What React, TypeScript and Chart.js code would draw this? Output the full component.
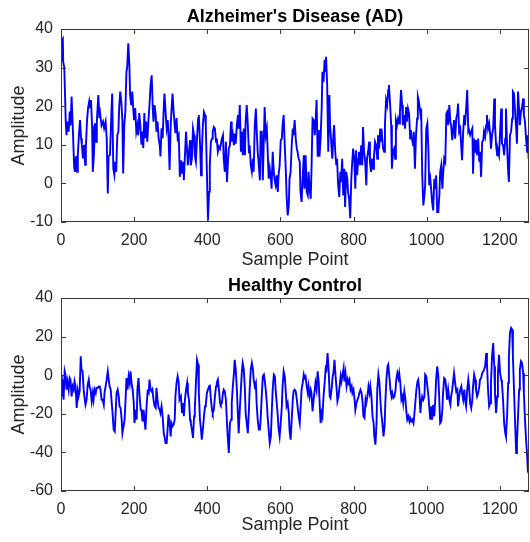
import React, { useEffect, useRef } from 'react';
import { Chart, registerables } from 'chart.js';

Chart.register(...registerables);

const FONT = '"Liberation Sans", Arial, Helvetica, sans-serif';

const adTitle = "Alzheimer's Disease (AD)";
const hcTitle = 'Healthy Control';
const xLabel = 'Sample Point';
const yLabel = 'Amplitude';

// ---- Alzheimer's Disease trace ----
const adSamplesA = [
  0, 2, 5, 6, 9, 13, 15, 18, 21, 24, 26, 29, 32, 36, 38, 41, 44, 46, 49, 52,
  55, 57, 60, 63, 66, 68, 71, 74, 77, 79, 82, 85, 87, 90, 93, 96, 98, 102, 105, 107,
  111, 115, 118, 122, 125, 128, 130, 134, 138, 140, 143, 146, 148, 151, 154, 157, 159, 162, 165, 168,
  170, 173, 176, 179, 181, 184, 187, 189, 192, 195, 198, 200, 203, 206, 209, 211, 214, 217, 220, 222,
  225, 228, 230, 233, 236, 239, 242, 245, 248, 251, 253, 256, 259, 261, 264, 267, 270, 272, 275, 278,
  281, 283, 286, 289, 292, 294, 297, 300, 302, 305, 308, 311, 313, 316, 319, 322, 324,
];
const adValuesA = [
  32, 37, 37.5, 31.5, 30, 16, 12.5, 16, 13.4, 18.6, 15, 22.5, 15, 4.3, 3, 7, 3, 7.4, 12.5, 16.4,
  11.7, 10, 6.5, 10, 4.8, 9.2, 16, 19.5, 21.2, 19.5, 21.6, 15, 3, 7.4, 15.6, 10.8, 16, 22.9, 16.9, 18.2,
  15, 16, 14.3, 16, 11.7, -2.6, 7, 7.4, 18.6, 23.3, 3.9, 2.2, 5.6, 3, 12.5, 13.4, 19.5, 23.8, 21.2, 16,
  2.6, 15, 18.6, 29, 30, 36.3, 30.7, 22.9, 20.3, 23.8, 18.6, 16.4, 19.5, 13.4, 15, 12.5, 18.2, 15, 10, 13.4,
  9.2, 18.2, 11.7, 16, 10.8, 16, 20.3, 25.5, 28, 19.5, 16, 20.3, 17.7, 13.4, 16, 11.7, 10, 7, 14.3, 11.7,
  19.5, 23.3, 18.6, 14.3, 16.4, 12.5, 3.5, 15, 18.6, 23.3, 18.6, 15, 13, 16.9, 11.7, 12.5, 5.6,
];

const samplesB = [
  325, 328, 331, 334, 336, 339, 342, 345, 347, 350, 353, 355, 358, 361, 364, 366, 369, 372, 375, 377,
  380, 383, 385, 388, 391, 394, 396, 399, 402, 405, 407, 410, 413, 415, 418, 421, 424, 426, 429, 432,
  435, 437, 440, 443, 445, 448, 451, 454, 456, 459, 462, 465, 467, 470, 473, 475, 478, 481, 484, 486,
  489, 492, 495, 497, 500, 503, 505, 508, 511, 514, 516, 519, 522, 525, 527, 530, 533, 535, 538, 541,
  544, 546, 549, 552, 555, 557, 560, 563, 565, 568, 571, 574, 576, 579, 582, 585, 587, 590, 593, 595,
  598, 601, 604, 606, 609, 612, 615, 617, 620, 623, 625, 628, 631, 634, 636, 639, 642, 645, 647, 650,
  653,
];
const adValuesB = [
  1.7, 6, 2.5, 5.6, 0.8, 7.3, 13.4, 8.2, 4.7, 8.2, 11.2, 4.7, 6.4, 14.2, 12.5, 7.3, 5.6, 11.6, 16.8, 17.7,
  10.8, 2.1, 7.3, 15.1, 18.5, 17.7, 15.1, 3, -9.6, -2.2, 4.7, 10.8, 11.6, 13.4, 14.6, 14.2, 10.8, 11.6, 8.2, 9.5,
  9, 9, 11.6, 12.5, 6.4, 3, 10.8, 0.4, 4.7, 9, 9.9, 16, 10.8, 12.5, 9.9, 12.9, 10.3, 15.1, 17.7, 14.2,
  20.3, 8.2, 13.4, 7.3, 14.2, 7.3, 16, 20.3, 15.1, 7.8, 9.9, 4.7, 3, 6.4, 3, 15.1, 19.4, 14.2, 8.2, 4.7,
  0.8, 13.4, 13.4, 0.8, 12.5, 19.8, 12.5, 14.2, 9, 1.2, 3.8, 1.2, -1.4, 8.2, 3, 0.4, -0.5, 2.1, -2.2, 2.1,
  4.7, 11.2, 11.6, 15.1, 17.7, 9.9, 3, -3.1, -8.3, -5.7, 1.2, 3, 9.9, 14.2, 12.5, 16.4, 11.6, 9, 8.2, 6.4,
  5.6,
];

const adSamplesC = [
  655, 658, 661, 664, 666, 669, 672, 675, 677, 680, 683, 685, 688, 691, 694, 696, 699, 702, 705, 707,
  710, 713, 715, 718, 721, 724, 725, 728, 731, 734, 736, 739, 742, 745, 747, 750, 753, 755, 758, 761,
  764, 766, 769, 772, 775, 777, 780, 783, 785, 788, 791, 794, 796, 799, 802, 805, 807, 810, 813, 815,
  818, 821, 824, 826, 829, 832, 835, 837, 840, 843, 845, 848, 851, 854, 856, 859, 862, 865, 867, 870,
  873, 875, 878, 881, 884, 886, 889, 892, 895, 897, 900, 903, 905, 908, 911, 914, 916, 919, 922, 925,
  927, 930, 933, 935, 938, 941, 944, 946, 949, 952, 955, 957, 960, 963, 965, 968, 971, 974, 976, 979,
];
const adValuesC = [
  -2.2, -4.8, 1.2, 7.3, -1.4, 7.3, -2.2, -3.1, 3, -1.4, -4, 3, 16.8, 16.4, 12.5, 15.1, 21.6, 6.9, 13.8, 6.9,
  11.6, 19.4, 28.9, 26.3, 32, 28.9, 32.8, 25.5, 8.2, 22.9, 15.1, 10.8, 6.4, 12.5, 15.1, 8.2, 4.7, 6.4, -0.5, -3.5,
  3, 0.4, 6.4, -3.1, 3.8, -6.1, 3, 1.2, -2.2, -4, -9, 1.2, 4.7, 9, 6.4, -1.4, 8.6, 2.1, 6.4, 8.2,
  4.7, 9.9, 4.7, 14.6, 8.2, 5.6, -0.5, 6.4, 8.2, 10.8, 5.6, 3, 6.4, 3.8, 6.9, 10.8, 9.9, 6.4, 12.5, 9,
  14.2, 10.8, 12.5, 9, 8.2, 15.1, 21.6, 20.3, 24.2, 25.5, 20.7, 15.1, 3.8, 8.2, 9, 6.4, 16.4, 15.1, 16.8, 15.5,
  18.5, 24.2, 20.3, 15.1, 17.7, 14.2, 19.8, 16, 19.4, 18.1, 11.6, 13.8, 11.6, 9.9, 13.4, 3.8, 12.5, 16.8, 22.5, 21.2,
];

const samplesD = [
  983, 985, 988, 991, 994, 996, 999, 1002, 1005, 1007, 1010, 1013, 1015, 1018, 1021, 1024, 1026, 1029, 1032, 1035,
  1037, 1040, 1043, 1045, 1048, 1051, 1054, 1056, 1059, 1062, 1065, 1067, 1070, 1073, 1075, 1078, 1081, 1084, 1086, 1089,
  1092, 1095, 1097, 1100, 1103, 1105, 1108, 1111, 1114, 1116, 1119, 1122, 1125, 1127, 1130, 1133, 1135, 1138, 1141, 1144,
  1146, 1149, 1152, 1155, 1157, 1160, 1163, 1165, 1168, 1171, 1174, 1176, 1179, 1182, 1185, 1187, 1190, 1193, 1195, 1198,
  1201, 1204, 1206, 1209, 1212, 1215, 1217, 1220, 1223, 1225, 1228, 1231, 1234, 1236, 1239, 1242, 1245, 1247, 1250, 1253,
  1255, 1258, 1261, 1264, 1266, 1269, 1272, 1275, 1277, 1279,
];
const adValuesD = [
  18.1, 19.4, 2.1, -5.7, -3.1, -0.5, 14.2, 15.5, 8.2, -0.5, 1.2, -2.2, -4.8, -7, 1.2, -1.4, 2.1, -7.4, -7.4, -2.7,
  3, 4.7, -1.4, 2.1, 6.4, 5.6, 18.1, 18.5, 15.1, 20.3, 16, 15.1, 11.2, 14.2, 16.4, 11.6, 16.8, 18.1, 20.7, 13.4,
  14.2, 9, 6, 13.4, 17.7, 15.1, 19.4, 24.2, 13.4, 13.8, 12.5, 13.4, 14.2, 2.5, 11.6, 8.2, 11.2, 7.3, 11.6, 5.6,
  8.2, 1.7, 10.8, 11.2, 13.4, 12.1, 15.1, 17.7, 14.2, 15.5, 12.5, 9, 12.5, 14.2, 22, 15.1, 9.9, 7.3, 8.6, 7.3,
  13.4, 19.4, 10.3, 9.9, 7.3, 11.6, 19.4, 9.9, 3, 0.4, 12.5, 13.4, 16.8, 23.8, 23.3, 18.5, 14.2, 10.3, 23.8, 19,
  15.1, 18.5, 19.8, 22, 17.7, 16, 11.6, 8.2, 12.5, 6.4,
];

// ---- Healthy Control trace ----
const hcSamplesA = [
  0, 2, 5, 7, 10, 13, 15, 18, 21, 24, 26, 29, 32, 35, 37, 40, 43, 46, 48, 51,
  54, 56, 59, 62, 65, 67, 70, 73, 76, 78, 81, 84, 87, 89, 92, 95, 97, 100, 103, 106,
  108, 111, 114, 117, 119, 122, 125, 128, 130, 133, 136, 138, 141, 144, 147, 149, 152, 155, 158, 160,
  163, 166, 168, 171, 174, 177, 179, 182, 185, 188, 190, 193, 196, 199, 201, 204, 207, 209, 212, 215,
  218, 220, 223, 226, 229, 231, 234, 237, 240, 242, 245, 248, 250, 253, 256, 259, 261, 264, 267, 270,
  272, 275, 278, 281, 283, 286, 289, 292, 294, 297, 300, 302, 305, 308, 311, 313, 316, 319, 322, 324,
];
const hcValuesA = [
  0.3, -11, -2.3, -12.7, 2, -0.6, -7.5, -3.2, -7.5, -1.5, -2.3, -11, -5.8, -7.5, -3.2, -5.8, -17, -8.4, -11, -8.4,
  9.8, 2.9, 2, -7.5, -12.7, -15.3, -12.7, -4.9, -2.3, -5.8, -7.5, -13.5, -9.2, -12.7, -7.5, -9.2, -6.6, -6.6, -5.8, -5.8,
  -7.5, -12.7, -12.7, -15.3, -9.2, -5.8, -2.3, 2, -1.5, -5.8, -7.5, -12.7, -19.6, -28.2, -29.1, -21.3, -9.2, -7.5, -11, -16.1,
  -17, -23, -30, -26.5, -23, -11, -1.5, -7.5, -0.6, -4, 2, -4, -7.5, -14.4, -24.8, -17.9, -23, -7.5, -1.5, -11,
  -17.9, -17.9, -23.9, -17.9, -24.8, -28.2, -16.1, -8.4, -9.2, -2.3, -7.5, -8.4, -7.5, -12.7, -16.1, -17, -6.6, -12.7, -17, -17.9,
  -19.6, -16.1, -21.3, -30, -31.7, -35.1, -35.1, -26.5, -20.4, -24.8, -31.7, -24.8, -26.5, -25.6, -23, -11, -4, -0.6, -4, -12.7,
];

const hcValuesB = [
  -12.7, -11, -19.6, -14.4, -21.3, -12.7, -7.5, -4, -9.2, -12.7, -23, -24.8, -28.2, -32.5, -21.3, -17.9, -4, 8, 5.5, -9.2,
  -23, -28.2, -33.4, -28.2, -21.3, -16.1, -15.3, -9.2, -7.5, -5.8, -4.9, -12.7, -17.9, -19.6, -17.9, -11, -5.8, -4, -2.3, -7.5,
  -14.4, -15.3, -14.4, -9.2, -7.5, -8.4, -12.7, -24.8, -31.7, -40.3, -24.8, -23, -14.4, -5.8, 1.1, 8, 2.9, -7.5, -21.3, -30,
  -17.9, -7.5, 2.9, 6.3, 2.9, -7.5, -19.6, -24.8, -30, -17.9, -7.5, 2.9, 6.3, 2.9, -2.3, -5.8, -4, -14.4, -23, -28.2,
  -28.2, -23, -11, -0.6, 0.3, -2.3, -7.5, -14.4, -21.3, -28.2, -35.1, -31.7, -21.3, -7.5, 0.3, -0.6, -7.5, -14.4, -21.3, -27.3,
  -31.7, -24.8, -16.1, -5.8, 2, -0.6, -9.2, -16.1, -14.4, -19.6, -28.2, -33.4, -23, -12.7, -8.4, -7.5, -8.4, -12.7, -16.1, -21.3,
  -24.8,
];

const hcSamplesC = [
  655, 658, 661, 664, 666, 669, 672, 675, 677, 680, 683, 685, 688, 691, 694, 696, 699, 702, 705, 707,
  710, 713, 715, 718, 721, 724, 726, 729, 732, 735, 737, 740, 743, 745, 748, 751, 754, 756, 759, 762,
  765, 767, 770, 773, 775, 778, 781, 784, 786, 789, 792, 795, 797, 800, 803, 805, 808, 811, 814, 816,
  819, 822, 825, 827, 830, 833, 835, 838, 841, 844, 846, 849, 852, 855, 857, 860, 863, 865, 868, 871,
  874, 876, 879, 882, 885, 887, 890, 893, 895, 898, 901, 904, 906, 909, 912, 915, 917, 920, 923, 925,
  928, 931, 934, 936, 939, 942, 945, 947, 950, 953, 955, 958, 961, 964, 966, 969, 972, 975, 977, 980,
];
const hcValuesC = [
  -17.9, -7.5, -4, 0.3, -1.5, -0.6, -5.8, -9.2, -5.8, -11, -7.5, -9.2, -18.7, -12.7, -7.5, -4, -7.5, 2, -4, -12.7,
  -24.8, -19.6, -21.3, -11, -4, 3.7, 2.9, 11.5, 2.9, -11, -11.8, -7.5, -0.6, 1.1, 8, -0.6, -7.5, -13.5, -11, -5.8,
  -0.6, -3.2, 0.3, 3.7, -3.2, 1.1, -5.8, -2.3, -4, -2.3, -7.5, -5.8, -9.2, -7.5, -12.7, -17.9, -14.4, -12.7, -11, -9.2,
  -7.5, -9.2, -14.4, -21.3, -22.2, -12.7, -14.4, -11, -5.8, -9.2, -5.8, -11, -21.3, -24.8, -31.7, -36, -24.8, -7.5, 0.3, -4,
  -14.4, -19.6, -24.8, -31.7, -26.5, -14.4, -2.3, 4.6, 5.5, -0.6, -7.5, -11, -9.2, -11.8, -11, -7.5, -2.3, 1.1, -1.5, 1.1,
  -4, -12.7, -11, -14.4, -8.4, -12.7, -19.6, -23, -21.3, -23.9, -22.2, -23.9, -23, -24.8, -21.3, -14.4, -7.5, -3.2, -2.3, -7.5,
];

const hcValuesD = [
  -19.6, -14.4, -11, -12.7, -11, 0.3, -0.6, -5.8, -11, -16.1, -23, -16.1, -23, -15.3, -21.3, -11, -2.3, 4.6, -0.6, -14.4,
  -24.8, -23.9, -17.9, -9.2, -1.5, -2.3, -7.5, -12.7, -7.5, -12.7, -15.3, -11, -7.5, -2.3, 1.1, -4, -8.4, -7.5, -16.1, -11,
  -7.5, -5.8, -9.2, -12.7, -7.5, -12.7, -16.1, -7.5, -2.3, -5.8, -14.4, -17, -12.7, -5.8, 0.3, -2.3, -7.5, -11, -9.2, -5.8,
  -2.3, -1.5, 1.1, 2, 2.9, 4.6, 11.5, 6.3, -7.5, -16.1, -14.4, -4, 9.8, 16.7, 4.6, -9.2, -19.6, -11, 1.1, 10.6,
  1.1, -2.3, -4, -12.7, -24.8, -30, -31.7, -21.3, -4, 9.8, 21.9, 24.5, 23.6, 9.8, -7.5, -24.8, -40.3, -35.1, -21.3, -7.5,
  2.9, 7.2, 6.3, 1.1, -9.2, -23, -33.4, -42, -49.8, -50.7,
];

const adSamples = [...adSamplesA, ...samplesB, ...adSamplesC, ...samplesD];
const adAmplitude = [...adValuesA, ...adValuesB, ...adValuesC, ...adValuesD];
const hcSamples = [...hcSamplesA, ...samplesB, ...hcSamplesC, ...samplesD];
const hcAmplitude = [...hcValuesA, ...hcValuesB, ...hcValuesC, ...hcValuesD];

const xRange = [0, 1280];
const adYRange = [-10, 40];
const hcYRange = [-60, 40];

const AXIS_COLOR = '#262626';

const matlabAxes = {
  id: 'matlabAxes',
  afterDraw(chart: any, _args: any, opts: any) {
    const { ctx, chartArea, scales } = chart;
    const { left, right, top, bottom } = chartArea;
    const x = scales.x;
    const y = scales.y;
    ctx.save();
    ctx.strokeStyle = '#3a3a3a';
    ctx.lineWidth = 1;
    ctx.beginPath();
    const tl = 5;
    x.ticks.forEach((t: any) => {
      const px = Math.round(x.getPixelForValue(t.value)) + 0.5;
      ctx.moveTo(px, bottom);
      ctx.lineTo(px, bottom - tl);
      ctx.moveTo(px, top);
      ctx.lineTo(px, top + tl);
    });
    y.ticks.forEach((t: any) => {
      const py = Math.round(y.getPixelForValue(t.value)) + 0.5;
      ctx.moveTo(left, py);
      ctx.lineTo(left + tl, py);
      ctx.moveTo(right, py);
      ctx.lineTo(right - tl, py);
    });
    ctx.stroke();
    ctx.strokeRect(left + 0.5, top + 0.5, right - left - 1, bottom - top - 1);

    ctx.fillStyle = '#000';
    ctx.font = `bold 18px ${FONT}`;
    ctx.textAlign = 'center';
    ctx.textBaseline = 'middle';
    ctx.fillText(opts.title, (left + right) / 2, top - opts.titleGap);

    ctx.fillStyle = AXIS_COLOR;
    ctx.font = `18px ${FONT}`;
    ctx.fillText(opts.xLabel, (left + right) / 2, bottom + opts.xLabelGap);
    ctx.translate(opts.yLabelX, (top + bottom) / 2);
    ctx.rotate(-Math.PI / 2);
    ctx.fillText(opts.yLabel, 0, 0);
    ctx.restore();
  },
};

function buildConfig(
  samples: number[],
  amplitude: number[],
  yRange: number[],
  yStep: number,
  title: string,
  padTop: number,
  xAxisHeight: number,
  titleGap: number,
  xLabelGap: number
): any {
  const points = samples.map((s, i) => ({ x: s, y: amplitude[i] }));
  return {
    type: 'line',
    data: {
      datasets: [
        {
          data: points,
          borderColor: '#0000ff',
          borderWidth: 1.9,
          pointRadius: 0,
          tension: 0,
          fill: false,
        },
      ],
    },
    options: {
      responsive: false,
      animation: false,
      devicePixelRatio: 1,
      layout: { padding: { top: padTop, right: 1, left: 0, bottom: 0 } },
      plugins: {
        legend: { display: false },
        tooltip: { enabled: false },
        title: { display: false },
        matlabAxes: {
          title,
          titleGap,
          xLabel,
          yLabel,
          xLabelGap,
          yLabelX: 19,
        },
      },
      scales: {
        x: {
          type: 'linear',
          min: xRange[0],
          max: xRange[1],
          grid: { display: false, drawTicks: false },
          border: { display: false },
          ticks: {
            stepSize: 200,
            includeBounds: false,
            padding: 9,
            color: AXIS_COLOR,
            font: { family: FONT, size: 16 },
            maxRotation: 0,
            autoSkip: false,
            callback: (v: number) => String(v),
          },
          afterFit: (s: any) => {
            s.height = xAxisHeight;
          },
        },
        y: {
          type: 'linear',
          min: yRange[0],
          max: yRange[1],
          grid: { display: false, drawTicks: false },
          border: { display: false },
          ticks: {
            stepSize: yStep,
            padding: 8,
            color: AXIS_COLOR,
            font: { family: FONT, size: 16 },
            callback: (v: number) => String(v),
          },
          afterFit: (s: any) => {
            s.width = 61;
          },
        },
      },
    },
    plugins: [matlabAxes],
  };
}

export default function App() {
  const topRef = useRef<HTMLCanvasElement>(null);
  const botRef = useRef<HTMLCanvasElement>(null);

  useEffect(() => {
    const c1 = new Chart(
      topRef.current as HTMLCanvasElement,
      buildConfig(adSamples, adAmplitude, adYRange, 10, adTitle, 29, 53, 12, 38)
    );
    const c2 = new Chart(
      botRef.current as HTMLCanvasElement,
      buildConfig(hcSamples, hcAmplitude, hcYRange, 20, hcTitle, 23, 51, 12, 34)
    );
    return () => {
      c1.destroy();
      c2.destroy();
    };
  }, []);

  return (
    <div style={{ position: 'fixed', left: 0, top: 0, width: 530, height: 542, background: '#fff' }}>
      <canvas
        ref={topRef}
        width={530}
        height={275}
        style={{ position: 'absolute', left: 0, top: 0, width: 530, height: 275 }}
      />
      <canvas
        ref={botRef}
        width={530}
        height={267}
        style={{ position: 'absolute', left: 0, top: 275, width: 530, height: 267 }}
      />
    </div>
  );
}
